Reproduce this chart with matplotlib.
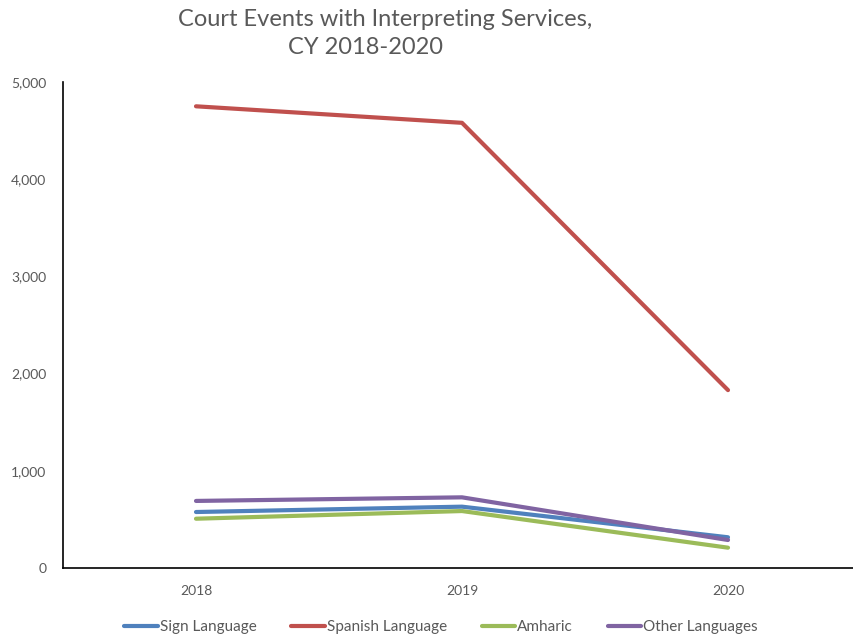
import matplotlib.pyplot as plt

years = ['2018', '2019', '2020']
sign_language = [576, 631, 316]
spanish_language = [4750, 4580, 1830]
amharic = [507, 586, 209]
other_languages = [690, 727, 288]

series = [
    ('Sign Language', sign_language, '#4F81BD'),
    ('Spanish Language', spanish_language, '#C0504D'),
    ('Amharic', amharic, '#9BBB59'),
    ('Other Languages', other_languages, '#8064A2'),
]

plt.rcParams['font.family'] = ['Lato', 'DejaVu Sans']
grey = '#595959'

fig = plt.figure(figsize=(8.54, 6.4), dpi=100)
ax = fig.add_axes([63 / 854, 1 - 568 / 640, (861 - 63) / 854, (568 - 82) / 640])

x = range(len(years))
for name, vals, color in series:
    ax.plot(x, vals, color=color, linewidth=3, label=name, solid_capstyle='round')

ax.set_xlim(-0.5, 2.5)
ax.set_ylim(0, 5000)
ax.set_xticks(list(x))
ax.set_xticklabels(years)
ax.set_yticks(range(0, 5001, 1000))
ax.set_yticklabels([f'{v:,}' for v in range(0, 5001, 1000)])
ax.tick_params(length=0, labelsize=10, colors=grey)
ax.tick_params(axis='y', pad=12)
ax.tick_params(axis='x', pad=12)

for s in ['top', 'right']:
    ax.spines[s].set_visible(False)
for s in ['left', 'bottom']:
    ax.spines[s].set_color('black')
    ax.spines[s].set_linewidth(1.2)

fig.text(385 / 854, 1 - 20 / 640, 'Court Events with Interpreting Services,',
         ha='center', va='center', fontsize=17, color=grey)
fig.text(366 / 854, 1 - 48 / 640, 'CY 2018-2020',
         ha='center', va='center', fontsize=17, color=grey)

leg = fig.legend(loc='center', bbox_to_anchor=(441 / 854, 1 - 627 / 640), ncol=4,
                 frameon=False, fontsize=11, handlelength=2.2, handletextpad=0.1,
                 columnspacing=2.3)
for t in leg.get_texts():
    t.set_color(grey)

fig.savefig('out.png', dpi=100)
